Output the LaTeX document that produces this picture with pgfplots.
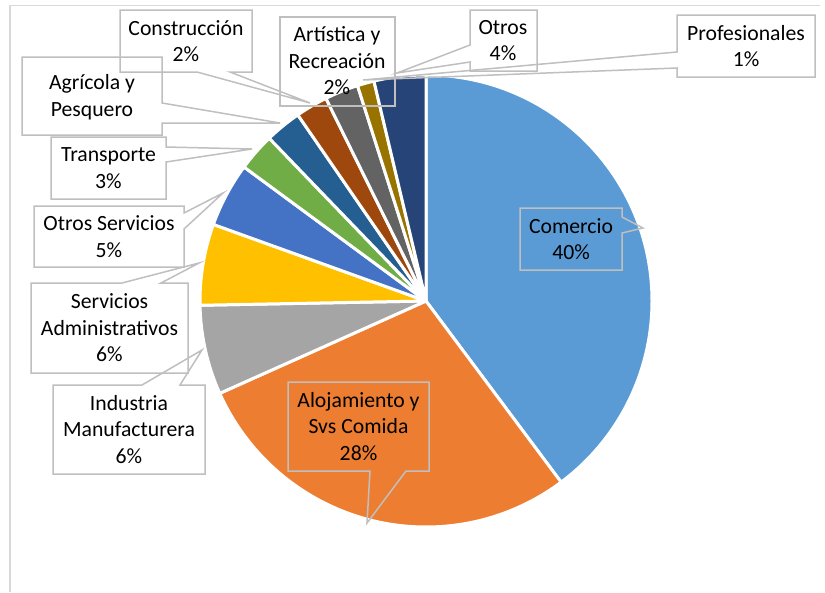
\documentclass[border=0pt]{standalone}
\usepackage{fontspec}
\setmainfont{Carlito}
\usepackage{pgfplots}
\pgfplotsset{compat=1.18}
\definecolor{cA}{HTML}{5B9BD5}
\definecolor{cB}{HTML}{ED7D31}
\definecolor{cC}{HTML}{A5A5A5}
\definecolor{cD}{HTML}{FFC000}
\definecolor{cE}{HTML}{4472C4}
\definecolor{cF}{HTML}{70AD47}
\definecolor{cG}{HTML}{255E91}
\definecolor{cH}{HTML}{9E480E}
\definecolor{cI}{HTML}{636363}
\definecolor{cJ}{HTML}{997300}
\definecolor{cK}{HTML}{264478}
\definecolor{callgray}{HTML}{BFBFBF}
\definecolor{framegray}{HTML}{D9D9D9}
\begin{document}
\begin{tikzpicture}
\begin{axis}[
  at={(0,0)}, anchor=south west,
  scale only axis, width=825pt, height=592pt,
  xmin=0, xmax=825, ymin=0, ymax=592, y dir=reverse,
  hide axis, clip=false]
\path (axis cs:0,0) rectangle (axis cs:825,592);
% chart frame
\draw[framegray, line width=1.6pt] (axis cs:10,592) -- (axis cs:10,5.5) -- (axis cs:820,5.5);
% pie slices: share in percent, clockwise from 12 o'clock
\xdef\cum{0}
\foreach \v/\col in {39.8/cA, 28.5/cB, 6.4/cC, 5.8/cD, 4.6/cE, 2.7/cF, 2.6/cG, 2.3/cH, 2.4/cI, 1.2/cJ, 3.7/cK}{
  \pgfmathsetmacro\sa{90-3.6*\cum}
  \pgfmathsetmacro\ea{90-3.6*(\cum+\v)}
  \edef\doslice{\noexpand\fill[\col, draw=white, line width=3pt, line join=round] (axis cs:426,301) -- ++(\sa:226pt) arc[start angle=\sa, end angle=\ea, radius=226pt] -- cycle;}
  \doslice
  \pgfmathparse{\cum+\v}\xdef\cum{\pgfmathresult}
}
% callouts
\tikzset{call/.style={draw=callgray, line width=1.5pt, line join=miter}}
\draw[call] (axis cs:120,10) -- (axis cs:252,10) -- (axis cs:252,72) -- (axis cs:230,72) -- (axis cs:310,103) -- (axis cs:197,72) -- (axis cs:120,72) -- cycle;
\draw[call] (axis cs:280,17) -- (axis cs:395,17) -- (axis cs:395,106) -- (axis cs:280,106) -- cycle;
\draw[call] (axis cs:470,10) -- (axis cs:537,10) -- (axis cs:537,71) -- (axis cs:470,71) -- (axis cs:470,62) -- (axis cs:397,73) -- (axis cs:470,45) -- cycle;
\draw[call] (axis cs:677,15) -- (axis cs:815,15) -- (axis cs:815,77) -- (axis cs:677,77) -- (axis cs:677,68) -- (axis cs:363,80) -- (axis cs:677,52) -- cycle;
\draw[call] (axis cs:22,57) -- (axis cs:162,57) -- (axis cs:162,103) -- (axis cs:280,123) -- (axis cs:162,123) -- (axis cs:162,135) -- (axis cs:22,135) -- cycle;
\draw[call] (axis cs:51,137) -- (axis cs:166,137) -- (axis cs:166,147) -- (axis cs:252,149) -- (axis cs:166,162) -- (axis cs:166,199) -- (axis cs:51,199) -- cycle;
\draw[call] (axis cs:34,206) -- (axis cs:184,206) -- (axis cs:184,213) -- (axis cs:223,193) -- (axis cs:184,229) -- (axis cs:184,267) -- (axis cs:34,267) -- cycle;
\draw[call] (axis cs:31,283) -- (axis cs:122,283) -- (axis cs:199,263) -- (axis cs:161,283) -- (axis cs:188,283) -- (axis cs:188,373) -- (axis cs:31,373) -- cycle;
\draw[call] (axis cs:53,385) -- (axis cs:142,385) -- (axis cs:202,350) -- (axis cs:180,385) -- (axis cs:205,385) -- (axis cs:205,474) -- (axis cs:53,474) -- cycle;
\draw[call] (axis cs:288,382) -- (axis cs:429,382) -- (axis cs:429,471) -- (axis cs:406,471) -- (axis cs:367,523) -- (axis cs:370,471) -- (axis cs:288,471) -- cycle;
\draw[call] (axis cs:520,208) -- (axis cs:622,208) -- (axis cs:622,217) -- (axis cs:643,228) -- (axis cs:622,233) -- (axis cs:622,270) -- (axis cs:520,270) -- cycle;
% labels
\tikzset{lab/.style={align=center, inner sep=0pt, font=\fontsize{21.7}{26.5}\selectfont, text=black}}
\node[lab] at (axis cs:186,41) {Construcción\\2\%};
\node[lab] at (axis cs:337,61) {Artística y\\Recreación\\2\%};
\node[lab] at (axis cs:503,40.5) {Otros\\4\%};
\node[lab] at (axis cs:746,46) {Profesionales\\1\%};
\node[lab] at (axis cs:92,97) {Agrícola y\\Pesquero};
\node[lab] at (axis cs:108.5,168) {Transporte\\3\%};
\node[lab] at (axis cs:109,236.5) {Otros Servicios\\5\%};
\node[lab] at (axis cs:109.5,328) {Servicios\\Administrativos\\6\%};
\node[lab] at (axis cs:129,429.5) {Industria\\Manufacturera\\6\%};
\node[lab] at (axis cs:358.5,426.5) {Alojamiento y\\Svs Comida\\28\%};
\node[lab] at (axis cs:571,239) {Comercio\\40\%};
\end{axis}
\end{tikzpicture}
\end{document}
